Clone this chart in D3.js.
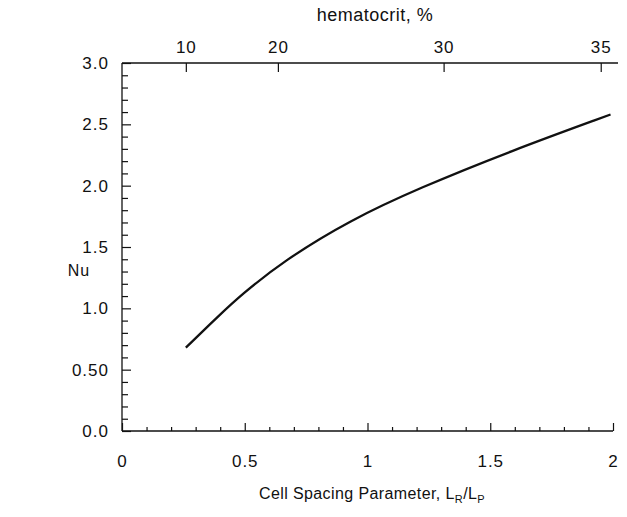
<!DOCTYPE html>
<html>
<head>
<meta charset="utf-8">
<script src="https://cdn.jsdelivr.net/npm/d3@7"></script>
<style>
  body { margin: 0; background: #fff; }
  svg { display: block; }
  text { font-family: "Liberation Sans", Arial, Helvetica, sans-serif; fill: #111; }
</style>
</head>
<body>
<svg id="chart" width="627" height="517"></svg>
<script>
// ---- data ----
const spacing = [0.26, 0.40, 0.48, 0.66, 0.93, 1.21, 1.58, 1.99];
const nusselt = [0.68, 0.95, 1.10, 1.39, 1.72, 1.98, 2.28, 2.58];
const xTicks = [0, 0.5, 1, 1.5, 2];
const xTickLabels = ["0", "0.5", "1", "1.5", "2"];
const yTicks = [0, 0.5, 1.0, 1.5, 2.0, 2.5, 3.0];
const yTickLabels = ["0.0", "0.50", "1.0", "1.5", "2.0", "2.5", "3.0"];
const hematocritLabels = ["10", "20", "30", "35"];
const hematocritAt = [0.26, 0.635, 1.31, 1.95]; // position on spacing axis

// ---- layout ----
const svg = d3.select("#chart");
const mLeft = 122, mRight = 613, mTop = 63, mBottom = 431;
const x = d3.scaleLinear().domain([0, 2]).range([mLeft, mRight]);
const y = d3.scaleLinear().domain([0, 3]).range([mBottom, mTop]);
const ink = "#111";
const font = "17px";

function styleTicks(g) {
  g.selectAll(".tick text").style("font-size", font).style("letter-spacing", "1px").attr("fill", ink);
}

// bottom axis (ticks inward)
const xMinor = d3.range(0, 2.0001, 0.1).filter(v => Math.abs(v * 2 - Math.round(v * 2)) > 1e-6);
const gxMinor = svg.append("g").attr("transform", `translate(0,${mBottom})`)
  .call(d3.axisBottom(x).tickValues(xMinor).tickSize(-4).tickFormat(""));
const gx = svg.append("g").attr("transform", `translate(0,${mBottom})`)
  .call(d3.axisBottom(x).tickValues(xTicks).tickSize(-8).tickPadding(24)
    .tickFormat((d, i) => xTickLabels[i]));
[gx, gxMinor].forEach(g => {
  g.select(".domain").attr("d", `M${mLeft},0H${mRight}`).attr("stroke", ink).attr("stroke-width", 1.3);
  g.selectAll(".tick line").attr("stroke", ink).attr("stroke-width", 1.2);
});
styleTicks(gx);
gxMinor.select(".domain").remove();

// left axis (ticks inward)
const yMinor = d3.range(0, 3.0001, 0.1).filter(v => Math.abs(v * 2 - Math.round(v * 2)) > 1e-6);
const gyMinor = svg.append("g").attr("transform", `translate(${mLeft},0)`)
  .call(d3.axisLeft(y).tickValues(yMinor).tickSize(-6).tickFormat(""));
const gy = svg.append("g").attr("transform", `translate(${mLeft},0)`)
  .call(d3.axisLeft(y).tickValues(yTicks).tickSize(-9).tickPadding(13)
    .tickFormat((d, i) => yTickLabels[i]));
[gy, gyMinor].forEach(g => {
  g.select(".domain").attr("d", `M0,${mBottom}V${mTop}`).attr("stroke", ink).attr("stroke-width", 1.3);
  g.selectAll(".tick line").attr("stroke", ink).attr("stroke-width", 1.2);
});
styleTicks(gy);
gyMinor.select(".domain").remove();

// top axis: hematocrit
const gt = svg.append("g").attr("transform", `translate(0,${mTop})`)
  .call(d3.axisTop(x).tickValues(hematocritAt).tickSize(-9).tickPadding(10)
    .tickFormat((d, i) => hematocritLabels[i]));
gt.select(".domain").attr("d", `M${mLeft},0H${mRight + 5}`).attr("stroke", ink).attr("stroke-width", 1.3);
gt.selectAll(".tick line").attr("stroke", ink).attr("stroke-width", 1.2);
styleTicks(gt);

// axis titles
svg.append("text").attr("x", 375).attr("y", 21).attr("text-anchor", "middle")
  .style("font-size", "18px").style("letter-spacing", "0.5px").text("hematocrit, %");
svg.append("text").attr("x", 79).attr("y", 276).attr("text-anchor", "middle")
  .style("font-size", "16px").style("letter-spacing", "1px").text("Nu");
const xt = svg.append("text").attr("x", 372).attr("y", 499).attr("text-anchor", "middle")
  .style("font-size", "16px").style("letter-spacing", "0.4px");
xt.append("tspan").text("Cell Spacing Parameter, L");
xt.append("tspan").attr("dy", 4).style("font-size", "11px").text("R");
xt.append("tspan").attr("dy", -4).text("/L");
xt.append("tspan").attr("dy", 4).style("font-size", "11px").text("P");

// curve
const pts = spacing.map((s, i) => [s, nusselt[i]]);
svg.append("path").datum(pts)
  .attr("fill", "none").attr("stroke", ink).attr("stroke-width", 2.3)
  .attr("d", d3.line().x(d => x(d[0])).y(d => y(d[1])).curve(d3.curveBasis));
</script>
</body>
</html>
